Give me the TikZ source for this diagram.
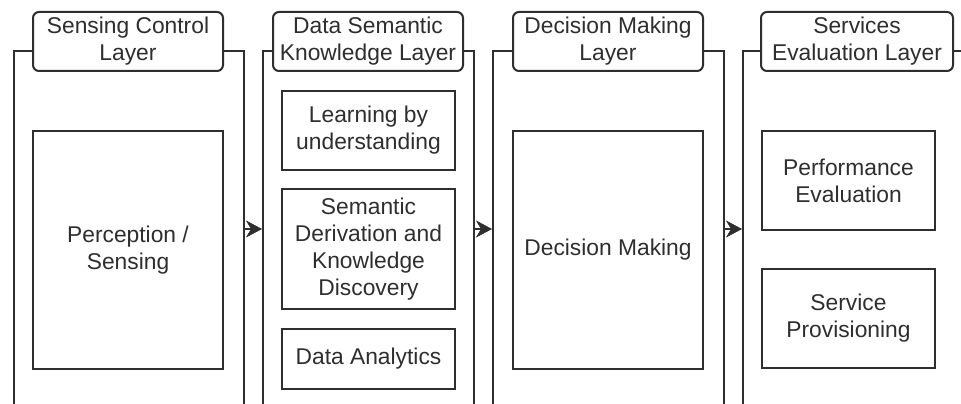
\documentclass[tikz,border=0pt]{standalone}
\usepackage{fontspec}
\setmainfont{Liberation Sans}
\usetikzlibrary{arrows.meta}
\definecolor{ink}{HTML}{2E2E2E}
\begin{document}
\begin{tikzpicture}[x=1pt,y=-1pt,
  base/.style={draw=ink, line width=2pt, rectangle, anchor=north west,
    inner sep=0pt, align=center, text=ink,
    font=\fontsize{22.8}{27}\selectfont},
  layerframe/.style={base},
  header/.style={base, fill=white, rounded corners=6pt},
  task/.style={base},
  flow/.style={draw=ink, line width=2pt,
    -{Stealth[length=16pt,width=17pt,inset=5pt,line width=0.5pt]}}]
\useasboundingbox (0,0) rectangle (961,404);
\clip (0,0) rectangle (961,404);

% layer frames (open at the bottom edge)
\node[layerframe, minimum width=230pt, minimum height=356pt] (f1) at (13,50) {};
\node[layerframe, minimum width=211pt, minimum height=356pt] (f2) at (262,50) {};
\node[layerframe, minimum width=231pt, minimum height=356pt] (f3) at (492,50) {};
\node[layerframe, minimum width=230pt, minimum height=356pt] (f4) at (742,50) {};

% layer titles
\node[header, minimum width=190pt, minimum height=59pt] (h1) at (32,11) {Sensing Control\\Layer};
\node[header, minimum width=190pt, minimum height=59pt] (h2) at (272,11) {Data Semantic\\Knowledge Layer};
\node[header, minimum width=190pt, minimum height=59pt] (h3) at (512,11) {Decision Making\\Layer};
\node[header, minimum width=192pt, minimum height=59pt] (h4) at (760,11) {Services\\Evaluation Layer};

% sensing control layer
\node[task, minimum width=190pt, minimum height=238pt] (sense) at (32,130) {Perception /\\Sensing};

% data semantic knowledge layer
\node[task, minimum width=173pt, minimum height=79pt] (learn) at (281,90) {Learning by\\understanding};
\node[task, minimum width=173pt, minimum height=120pt] (deriv) at (281,188) {Semantic\\Derivation and\\Knowledge\\Discovery};
\node[task, minimum width=173pt, minimum height=60pt] (analytics) at (281,328) {Data Analytics};

% decision making layer
\node[task, minimum width=190pt, minimum height=238pt] (decide) at (512,130) {Decision Making};

% services evaluation layer
\node[task, minimum width=173pt, minimum height=99pt] (perf) at (761,130) {Performance\\Evaluation};
\node[task, minimum width=173pt, minimum height=99pt] (prov) at (761,268) {Service\\Provisioning};

% flow between layers
\draw[flow] (f1) -- (f2);
\draw[flow] (f2) -- (f3);
\draw[flow] (f3) -- (f4);
\end{tikzpicture}
\end{document}
